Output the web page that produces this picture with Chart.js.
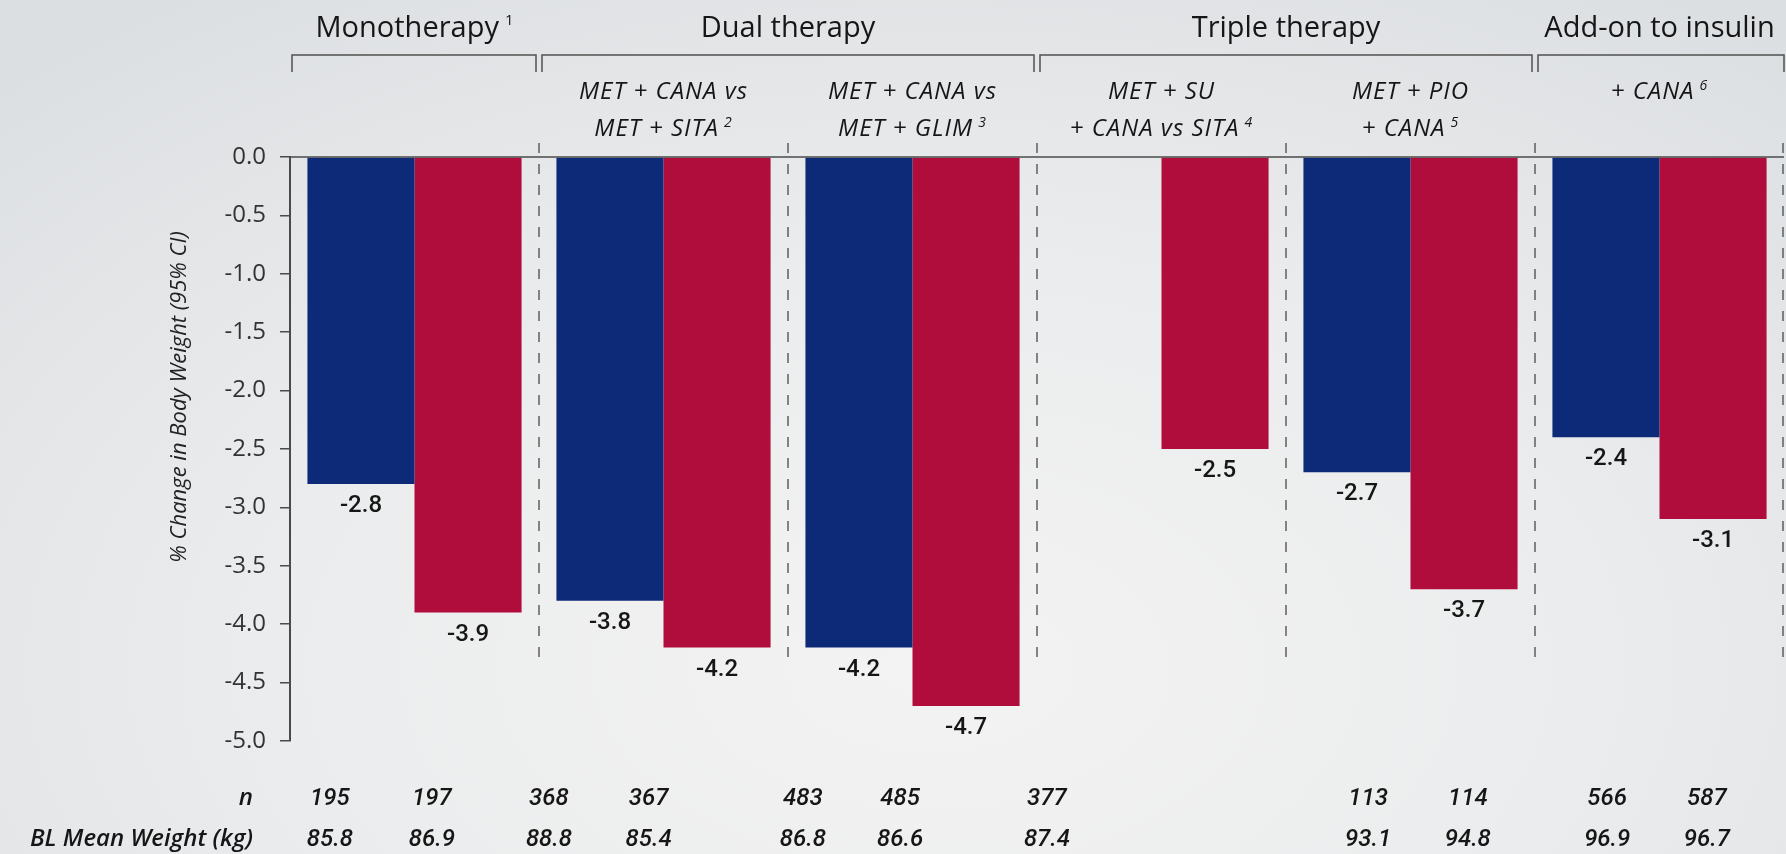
<!DOCTYPE html>
<html>
<head>
<meta charset="utf-8">
<script src="https://cdn.jsdelivr.net/npm/chart.js@4.4.1/dist/chart.umd.min.js"></script>
<style>
  html, body { margin: 0; padding: 0; }
  body {
    width: 1786px; height: 854px; overflow: hidden;
    background: radial-gradient(ellipse 75% 95% at 52% 78%, #f3f3f3 0%, #ebeced 50%, #dcdfe2 100%);
  }
  #wrap { position: relative; width: 1786px; height: 854px; }
  canvas { display: block; }
</style>
</head>
<body>
<div id="wrap"><canvas id="chart" width="1786" height="854"></canvas></div>
<script>
// Study arms (one category per trial)
const categories = [
  'Monotherapy',
  'MET + CANA vs MET + SITA',
  'MET + CANA vs MET + GLIM',
  'MET + SU + CANA vs SITA',
  'MET + PIO + CANA',
  'Add-on to insulin + CANA'
];

// % change in body weight
const cana100 = [-2.8, -3.8, -4.2, null, -2.7, -2.4];
const cana300 = [-3.9, -4.2, -4.7, -2.5, -3.7, -3.1];

// Therapy group headers spanning consecutive categories
const groupLabels = ['Monotherapy', 'Dual therapy', 'Triple therapy', 'Add-on to insulin'];
const groupRefs   = ['1', '', '', ''];
const groupStart  = [0, 1, 3, 5];
const groupEnd    = [0, 2, 4, 5];

// Per-trial sub labels (two lines) and reference numbers
const subLine1 = ['', 'MET + CANA vs', 'MET + CANA vs', 'MET + SU', 'MET + PIO', '+ CANA'];
const subLine2 = ['', 'MET + SITA', 'MET + GLIM', '+ CANA vs SITA', '+ CANA', ''];
const subRefs  = ['', '2', '3', '4', '5', '6'];

// Patient table below the plot
const nValues  = ['195', '197', '368', '367', '483', '485', '377', '113', '114', '566', '587'];
const blWeight = ['85.8', '86.9', '88.8', '85.4', '86.8', '86.6', '87.4', '93.1', '94.8', '96.9', '96.7'];

// Table column anchors, in category-axis units
const tableColumns = [-0.34, 0.07, 0.54, 0.94, 1.56, 1.95, 2.54, 3.83, 4.23, 4.79, 5.19];

const BLUE = '#0c2a77';
const RED = '#b00c3c';
const INK = '#161616';
const LINE = '#4a4a4a';

function textWithRef(ctx, text, ref, cx, y, font, refFont, refRise, gap, spacing) {
  ctx.letterSpacing = spacing || '0px';
  ctx.font = font;
  const w1 = ctx.measureText(text).width;
  ctx.font = refFont;
  const w2 = ref ? ctx.measureText(ref).width : 0;
  const total = w1 + (ref ? gap + w2 : 0);
  const x0 = cx - total / 2;
  ctx.textAlign = 'left';
  ctx.font = font;
  ctx.fillText(text, x0, y);
  if (ref) {
    ctx.font = refFont;
    ctx.fillText(ref, x0 + w1 + gap, y - refRise);
  }
  ctx.letterSpacing = '0px';
}

const decorations = {
  id: 'decorations',
  afterDatasetsDraw(chart) {
    const ctx = chart.ctx;
    const xs = chart.scales.x;
    const ys = chart.scales.y;
    const area = chart.chartArea;
    const y0 = ys.getPixelForValue(0);
    const boundary = k => xs.getPixelForValue(k - 0.5);
    ctx.save();

    // zero line
    ctx.strokeStyle = LINE;
    ctx.lineWidth = 1.5;
    ctx.beginPath();
    ctx.moveTo(area.left, y0);
    ctx.lineTo(area.right, y0);
    ctx.stroke();

    // dashed separators between trials
    ctx.setLineDash([10, 11]);
    ctx.lineWidth = 1.4;
    ctx.strokeStyle = '#555';
    const yDashEnd = ys.getPixelForValue(-4.3);
    for (let k = 1; k <= categories.length; k++) {
      const x = Math.min(boundary(k), area.right - 1);
      ctx.beginPath();
      ctx.moveTo(x, y0 - 14);
      ctx.lineTo(x, yDashEnd);
      ctx.stroke();
    }
    ctx.setLineDash([]);

    // value labels under each bar
    ctx.fillStyle = INK;
    ctx.font = '500 24px Roboto, "Open Sans", sans-serif';
    ctx.textAlign = 'center';
    ctx.textBaseline = 'middle';
    chart.data.datasets.forEach((ds, di) => {
      const meta = chart.getDatasetMeta(di);
      meta.data.forEach((bar, i) => {
        const v = ds.data[i];
        if (v === null || v === undefined) return;
        ctx.fillText(v.toFixed(1), bar.x, bar.y + 22);
      });
    });

    // group brackets and headers
    ctx.textBaseline = 'alphabetic';
    ctx.strokeStyle = '#505050';
    ctx.lineWidth = 1.5;
    const bracketY = 55, bracketDrop = 17;
    groupLabels.forEach((label, g) => {
      const first = groupStart[g] === 0;
      const last = groupEnd[g] === categories.length - 1;
      const left = first ? area.left + 2 : boundary(groupStart[g]) + 3;
      const right = last ? area.right : boundary(groupEnd[g] + 1) - 3;
      ctx.beginPath();
      ctx.moveTo(left, bracketY + bracketDrop);
      ctx.lineTo(left, bracketY);
      ctx.lineTo(right, bracketY);
      ctx.lineTo(right, bracketY + bracketDrop);
      ctx.stroke();
      const cx = (boundary(groupStart[g]) + boundary(groupEnd[g] + 1)) / 2;
      ctx.fillStyle = INK;
      textWithRef(ctx, label, groupRefs[g], cx, 37,
        '400 29px "Open Sans", sans-serif', '400 15px "Open Sans", sans-serif', 12, 6, '0px');
    });

    // trial sub labels
    categories.forEach((c, i) => {
      const cx = xs.getPixelForValue(i);
      const f = 'italic 400 24px "Open Sans", sans-serif';
      const rf = 'italic 400 14px "Open Sans", sans-serif';
      if (subLine2[i]) {
        textWithRef(ctx, subLine1[i], '', cx, 99, f, rf, 9, 5, '1px');
        textWithRef(ctx, subLine2[i], subRefs[i], cx, 136, f, rf, 9, 5, '1px');
      } else if (subLine1[i]) {
        textWithRef(ctx, subLine1[i], subRefs[i], cx, 99, f, rf, 9, 5, '1px');
      }
    });

    // patient table
    ctx.fillStyle = INK;
    ctx.textAlign = 'right';
    ctx.font = 'italic 600 24px "Open Sans", sans-serif';
    ctx.fillText('n', 253, 805);
    ctx.fillText('BL Mean Weight (kg)', 253, 846);
    ctx.textAlign = 'center';
    ctx.font = 'italic 500 24px Roboto, "Open Sans", sans-serif';
    tableColumns.forEach((col, j) => {
      const x = xs.getPixelForValue(col);
      ctx.fillText(nValues[j], x, 805);
      ctx.fillText(blWeight[j], x, 846);
    });

    // y axis title
    ctx.save();
    ctx.translate(180, 397);
    ctx.rotate(-Math.PI / 2);
    ctx.textAlign = 'center';
    ctx.textBaseline = 'middle';
    ctx.fillStyle = '#222';
    ctx.font = 'italic 400 22px "Open Sans", sans-serif';
    ctx.fillText('% Change in Body Weight (95% CI)', 0, 0);
    ctx.restore();

    ctx.restore();
  }
};

new Chart(document.getElementById('chart'), {
  type: 'bar',
  data: {
    labels: categories,
    datasets: [
      { label: 'CANA 100 mg', data: cana100, backgroundColor: BLUE, borderWidth: 0,
        categoryPercentage: 0.86, barPercentage: 1.0 },
      { label: 'CANA 300 mg', data: cana300, backgroundColor: RED, borderWidth: 0,
        categoryPercentage: 0.86, barPercentage: 1.0 }
    ]
  },
  options: {
    responsive: false,
    animation: false,
    devicePixelRatio: 1,
    layout: { padding: { top: 157, bottom: 113, left: 0, right: 2 } },
    plugins: { legend: { display: false }, tooltip: { enabled: false } },
    scales: {
      x: { type: 'category', display: false },
      y: {
        min: -5, max: 0,
        afterFit(scale) { scale.width = 290; },
        ticks: {
          stepSize: 0.5,
          callback: v => Number(v).toFixed(1),
          font: { family: '"Open Sans", sans-serif', size: 24 },
          color: '#333',
          padding: 14
        },
        grid: { drawOnChartArea: false, drawTicks: true, tickLength: 10, color: LINE, lineWidth: 1.5 },
        border: { display: true, color: LINE, width: 2 }
      }
    }
  },
  plugins: [decorations]
});
</script>
</body>
</html>
